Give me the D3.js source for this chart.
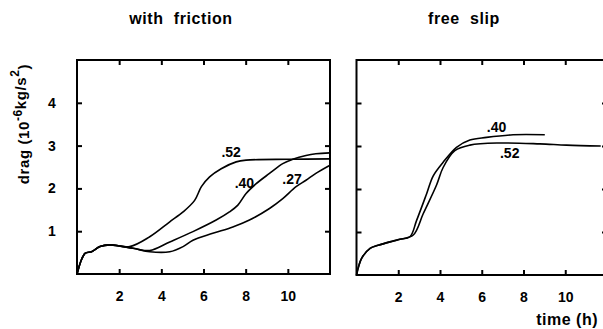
<!DOCTYPE html>
<html>
<head>
<meta charset="utf-8">
<script src="https://cdn.jsdelivr.net/npm/d3@7"></script>
<style>
  body { margin: 0; background: #fff; }
  svg text { font-family: "Liberation Sans", Arial, sans-serif; font-weight: bold; fill: #000; }
</style>
</head>
<body>
<div id="chart"></div>
<script>
// --- data (hours, drag in 10^-6 kg/s^2) ---
const xTicks = [2, 4, 6, 8, 10];
const yTicks = [1, 2, 3, 4];

// with friction
const fric52 = [[0,0],[0.38,0.48],[0.69,0.52],[1.09,0.64],[1.56,0.68],[2.5,0.64],[3.45,0.87],[4.4,1.22],[5.03,1.45],[5.58,1.72],[5.9,2.04],[6.29,2.27],[6.84,2.46],[7.55,2.62],[8.02,2.66],[10.07,2.68],[12,2.69]];
const fric40 = [[0,0],[0.38,0.48],[0.69,0.52],[1.09,0.64],[1.56,0.68],[2.66,0.6],[3.45,0.55],[4.4,0.75],[5.5,0.99],[6.6,1.26],[7.23,1.45],[7.63,1.61],[8.02,1.88],[8.5,2.11],[9.13,2.35],[9.76,2.58],[10.23,2.68],[10.86,2.77],[11.33,2.81],[12,2.83]];
const fric27 = [[0,0],[0.38,0.48],[0.69,0.52],[1.09,0.64],[1.56,0.68],[2.66,0.6],[3.45,0.52],[4.4,0.52],[5.03,0.64],[5.5,0.79],[6.44,0.95],[7.39,1.1],[8.18,1.26],[9.13,1.53],[9.76,1.76],[10.39,2.04],[10.86,2.19],[11.33,2.35],[12,2.54]];

// free slip
const slip40 = [[0,0],[0.25,0.39],[0.65,0.62],[1.04,0.69],[1.6,0.77],[2.08,0.83],[2.56,0.89],[2.88,1.27],[3.36,1.89],[3.67,2.3],[4.15,2.62],[4.79,2.97],[5.43,3.14],[6.23,3.2],[7.5,3.26],[9.02,3.26]];
const slip52 = [[0,0],[0.25,0.39],[0.65,0.62],[1.04,0.69],[1.6,0.77],[2.08,0.83],[2.72,0.93],[3.2,1.43],[3.84,2.1],[4.15,2.5],[4.71,2.89],[5.43,3.02],[6.87,3.07],[8.78,3.05],[10.06,3.02],[11.7,3.0]];

const panels = [
  { title: "with  friction", x0: 77, x1: 330, yTop: 60, yBot: 274, titleX: 181, yLabels: true,
    series: [fric52, fric40, fric27],
    labels: [{t: ".52", x: 7.31, y: 2.73}, {t: ".40", x: 7.94, y: 2.0}, {t: ".27", x: 10.2, y: 2.11}] },
  { title: "free  slip", x0: 356.5, x1: 607, yTop: 60, yBot: 275, titleX: 464, yLabels: false,
    series: [slip40, slip52],
    labels: [{t: ".40", x: 6.71, y: 3.32}, {t: ".52", x: 7.34, y: 2.71}] }
];

const width = 603, height = 329;
const svg = d3.select("#chart").append("svg")
  .attr("width", width)
  .attr("height", height);

panels.forEach(p => {
  const x = d3.scaleLinear().domain([0, 12]).range([p.x0, p.x1]);
  const y = d3.scaleLinear().domain([0, 5]).range([p.yBot, p.yTop]);

  const g = svg.append("g");

  // frame
  g.append("rect")
    .attr("x", p.x0).attr("y", p.yTop)
    .attr("width", p.x1 - p.x0).attr("height", p.yBot - p.yTop)
    .attr("fill", "none").attr("stroke", "#000").attr("stroke-width", 2);

  // inward ticks on all four sides
  const bottom = g.append("g")
    .attr("transform", `translate(0,${p.yBot})`)
    .call(d3.axisBottom(x).tickValues(xTicks).tickSizeInner(-5).tickSizeOuter(0).tickPadding(17).tickFormat(d3.format("d")));
  const top = g.append("g")
    .attr("transform", `translate(0,${p.yTop})`)
    .call(d3.axisTop(x).tickValues(xTicks).tickSizeInner(-5).tickSizeOuter(0).tickFormat(""));
  const left = g.append("g")
    .attr("transform", `translate(${p.x0},0)`)
    .call(d3.axisLeft(y).tickValues(yTicks).tickSizeInner(-5).tickSizeOuter(0).tickPadding(21)
      .tickFormat(p.yLabels ? d3.format("d") : ""));
  const right = g.append("g")
    .attr("transform", `translate(${p.x1},0)`)
    .call(d3.axisRight(y).tickValues(yTicks).tickSizeInner(-5).tickSizeOuter(0).tickFormat(""));

  [bottom, top, left, right].forEach(a => {
    a.select(".domain").remove();
    a.selectAll("line").attr("stroke", "#000").attr("stroke-width", 2);
    a.selectAll("text").style("font-size", "14px");
    a.attr("font-family", null).attr("font-size", null);
  });
  left.selectAll("text").attr("text-anchor", "middle").attr("x", -25);

  // curves
  const line = d3.line()
    .x(d => x(d[0]))
    .y(d => y(d[1]))
    .curve(d3.curveCatmullRom.alpha(0.5));

  g.selectAll(".curve")
    .data(p.series)
    .join("path")
    .attr("class", "curve")
    .attr("d", line)
    .attr("fill", "none")
    .attr("stroke", "#000")
    .attr("stroke-width", 1.6);

  // curve labels
  g.selectAll(".lbl")
    .data(p.labels)
    .join("text")
    .attr("class", "lbl")
    .attr("x", d => x(d.x))
    .attr("y", d => y(d.y))
    .attr("text-anchor", "middle")
    .style("font-size", "14px")
    .text(d => d.t);

  // title
  svg.append("text")
    .attr("x", p.titleX).attr("y", 24)
    .attr("text-anchor", "middle")
    .style("font-size", "16px")
    .style("letter-spacing", "0.6px")
    .style("white-space", "pre")
    .text(p.title);
});

// y axis label
const yl = svg.append("text")
  .attr("transform", "translate(29,124) rotate(-90)")
  .attr("text-anchor", "middle")
  .style("font-size", "15px")
  .style("letter-spacing", "0.6px");
yl.append("tspan").text("drag (10");
yl.append("tspan").attr("dy", -7).style("font-size", "12px").text("-6");
yl.append("tspan").attr("dy", 4).text("kg/s");
yl.append("tspan").attr("dy", -7).style("font-size", "12px").text("2");
yl.append("tspan").attr("dy", 10).text(")");

// x axis label
svg.append("text")
  .attr("x", 598).attr("y", 325)
  .attr("text-anchor", "end")
  .style("font-size", "16px")
  .style("letter-spacing", "0.5px")
  .text("time (h)");
</script>
</body>
</html>
